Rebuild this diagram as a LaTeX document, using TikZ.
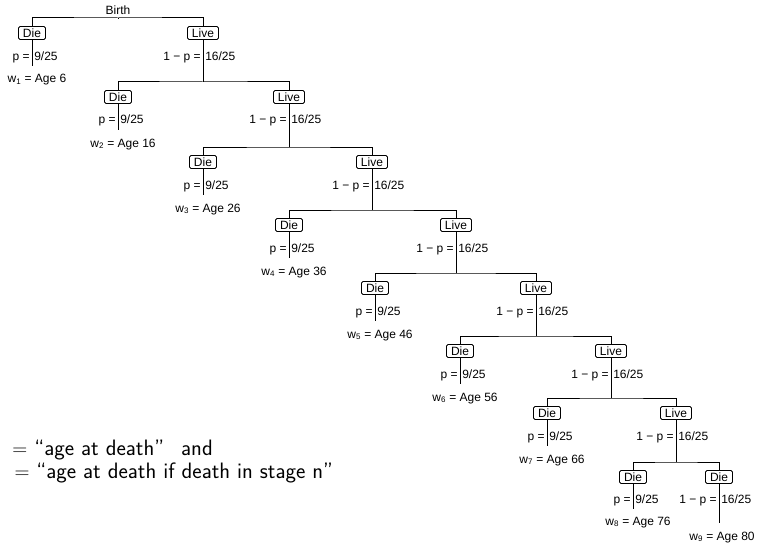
\documentclass[tikz,border=0pt]{standalone}
\usepackage{fontspec}
\newfontfamily\treefont{Liberation Sans}
\usetikzlibrary{calc}
\tikzset{
  box/.style={draw, line width=0.8pt, rounded corners=1.5pt,
    inner xsep=4.5pt, inner ysep=2.2pt, text height=8.6pt, text depth=0pt,
    font=\treefont\fontsize{12}{14}\selectfont},
  prob/.style={inner sep=1.8pt, font=\treefont\fontsize{12}{14}\selectfont},
  defs/.style={inner sep=0pt, anchor=base west,
    font=\sffamily\fontsize{22.3}{26}\selectfont}
}
\begin{document}
\begin{tikzpicture}[x=1pt,y=-1pt,line width=1pt]
\useasboundingbox (0,0) rectangle (758,543);
\clip (0,0) rectangle (758,543);
\node [prob,anchor=base] (birth) at (118,15) {Birth};
\node [inner sep=0pt] (live0) at (118,18) {};
\foreach \n/\d/\l/\c [remember=\n as \m (initially 0),
                      remember=\l as \lp (initially 118)] in
  {1/32/203/33, 2/118/289/97, 3/203/372/162, 4/289/456/225,
   5/375/536/288, 6/460/611/351, 7/547/676/413}{
  \pgfmathtruncatemacro{\age}{10*\n-4}
  \node [box] (die\n) at (\d,\c) {Die};
  \node [box] (live\n) at (\l,\c) {Live};
  \coordinate (bar\n) at (\lp,\c-15);
  \draw (live\m.south) -- (bar\n);
  \draw (die\n.north) |- (bar\n) -| (live\n.north);
  \draw (die\n.south) -- (\d,\c+33);
  \node [prob,anchor=base east] (pd\n) at (\d,\c+27) {p =};
  \node [prob,anchor=base west] (qd\n) at (\d,\c+27) {9/25};
  \node [prob,anchor=base] (w\n) at (\d+5,\c+50) {w\textsubscript{\n} = Age \age};
  \node [prob,anchor=base east] (pl\n) at (\l,\c+27) {1 − p =};
  \node [prob,anchor=base west] (ql\n) at (\l,\c+27) {16/25};
}
% last stage
\node [box] (die8) at (633,477) {Die};
\node [box] (end8) at (719,477) {Die};
\coordinate (bar8) at (676,462);
\draw (live7.south) -- (bar8);
\draw (die8.north) |- (bar8) -| (end8.north);
\draw (die8.south) -- (633,509);
\draw (end8.south) -- (719,523);
\node [prob,anchor=base east] (pd8) at (633,503) {p =};
\node [prob,anchor=base west] (qd8) at (633,503) {9/25};
\node [prob,anchor=base] (w8) at (638,525) {w\textsubscript{8} = Age 76};
\node [prob,anchor=base east] (pl8) at (719,503) {1 − p =};
\node [prob,anchor=base west] (ql8) at (719,503) {16/25};
\node [prob,anchor=base] (w9) at (722,540) {w\textsubscript{9} = Age 80};
% definitions
\node [defs] (def1) at (12,455) {$=$ “age at death”\hspace{10pt} and};
\node [defs] (def2) at (14,478) {$=$ “age at death if death in stage n”};
\end{tikzpicture}
\end{document}
